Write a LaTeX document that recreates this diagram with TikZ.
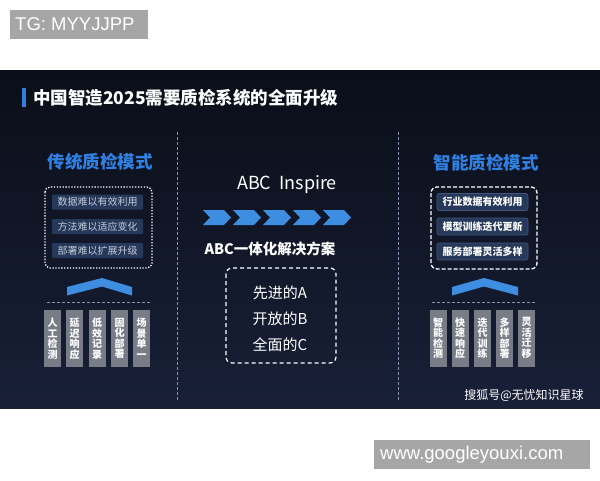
\documentclass[tikz,border=0pt]{standalone}
\usepackage{fontspec}
\setmainfont{Liberation Sans}
\newfontfamily\cjk{Noto Sans CJK SC}
\definecolor{panelTop}{HTML}{0A0E18}
\definecolor{panelBot}{HTML}{182038}
\definecolor{hblue}{HTML}{2F80E0}
\definecolor{cblue}{HTML}{3D8EE0}
\definecolor{itemfill}{HTML}{26395A}
\definecolor{itemdraw}{HTML}{42567A}
\definecolor{colgray}{HTML}{777C86}
\definecolor{vline}{HTML}{8594B4}
\definecolor{labgray}{HTML}{A6A6A6}
\definecolor{ltext}{HTML}{C3CADB}
\tikzset{
  graylab/.style={fill=labgray, text=white, font=\fontsize{18.5}{20}\selectfont, inner sep=0pt, anchor=center},
  heading/.style={text=hblue, font=\cjk\bfseries\fontsize{17.5}{18}\selectfont, inner sep=0pt},
  litem/.style={fill=itemfill, text=ltext, font=\cjk\fontsize{10}{11}\selectfont, minimum width=91pt, minimum height=15pt, inner sep=0pt, rounded corners=1pt},
  ritem/.style={fill=itemfill, draw=itemdraw, line width=0.6pt, text=white, font=\cjk\bfseries\fontsize{10}{11}\selectfont, minimum width=91pt, minimum height=17pt, inner sep=0pt, rounded corners=2pt},
  colbox/.style={fill=colgray, text=white, font=\cjk\bfseries\fontsize{10}{10.5}\selectfont, minimum width=17pt, minimum height=57pt, inner sep=0pt, align=center},
  chev/.style={fill=cblue, draw=none},
  caret/.style={fill=cblue, draw=none},
  sepline/.style={draw=vline, line width=0.9pt, dash pattern=on 3pt off 2pt},
  thinsep/.style={draw=vline, line width=0.8pt, dash pattern=on 3pt off 2pt},
  ctext/.style={text=white, font=\cjk\fontsize{15}{16}\selectfont, inner sep=0pt}
}
\begin{document}
\begin{tikzpicture}[x=1pt,y=-1pt]
\useasboundingbox (0,0) rectangle (600,480);
\fill[white] (0,0) rectangle (600,480);
% top label
\node[graylab, minimum width=138pt, minimum height=29pt] (tg) at (79,24.5) {};
\node[text=white, font=\fontsize{18.5}{20}\selectfont, inner sep=0pt, anchor=west] (tgt) at (15,24.5) {TG: MYYJJPP};
% panel
\shade[top color=panelTop, bottom color=panelBot] (0,70) rectangle (600,408);
% title
\fill[hblue] (22,88) rectangle (25.5,107);
\node[anchor=west, text=white, font=\cjk\bfseries\fontsize{17.5}{18}\selectfont, inner sep=0pt] (title) at (33,98) {中国智造2025需要质检系统的全面升级};
% separators
\coordinate (s1a) at (177.5,132); \coordinate (s1b) at (177.5,400);
\coordinate (s2a) at (398,132); \coordinate (s2b) at (398,400);
\draw[sepline] (s1a) -- (s1b);
\draw[sepline] (s2a) -- (s2b);
% left side
\node[heading] (lh) at (100,162) {传统质检模式};
\draw[white, line width=1.3pt, dash pattern=on 1.3pt off 1.6pt, rounded corners=5pt] (45,187) rectangle (152,268);
\node[litem] (l1) at (97.5,202) {数据难以有效利用};
\node[litem] (l2) at (97.5,226.5) {方法难以适应变化};
\node[litem] (l3) at (97.5,250.5) {部署难以扩展升级};
\fill[caret] (67,287) -- (102,278) -- (132,287) -- (132,295.5) -- (102,286.5) -- (67,295.5) -- cycle;
\coordinate (lda) at (47,302); \coordinate (ldb) at (150,302);
\draw[thinsep] (lda) -- (ldb);
\node[colbox] (lc1) at (52.5,338.5) {人\\工\\检\\测};
\node[colbox] (lc2) at (74.5,338.5) {延\\迟\\响\\应};
\node[colbox] (lc3) at (97,338.5) {低\\效\\记\\录};
\node[colbox] (lc4) at (119.5,338.5) {固\\化\\部\\署};
\node[colbox] (lc5) at (141.5,338.5) {场\\景\\单\\一};
% center
\node[text=white, font=\cjk\fontsize{18}{19}\selectfont, inner sep=0pt] (abc) at (287,185) {ABC\ \ Inspire};
\foreach \x in {203,233,263,293,323}{
  \fill[chev] (\x,210) -- (\x+21,210) -- (\x+28,217.5) -- (\x+21,225) -- (\x,225) -- (\x+7,217.5) -- cycle;
}
\node[text=white, font=\cjk\bfseries\fontsize{14.5}{15}\selectfont, inner sep=0pt] (sol) at (270,249) {ABC一体化解决方案};
\draw[white, line width=1.2pt, dash pattern=on 4pt off 3pt, rounded corners=6pt] (226,268) rectangle (336,363);
\node[ctext] (c1) at (280,293) {先进的A};
\node[ctext] (c2) at (280,319) {开放的B};
\node[ctext] (c3) at (280,345) {全面的C};
% right side
\node[heading] (rh) at (486,163) {智能质检模式};
\draw[white, line width=1.3pt, dash pattern=on 4pt off 2pt, rounded corners=6pt] (431,187) rectangle (537,269);
\node[ritem] (r1) at (482.5,202) {行业数据有效利用};
\node[ritem] (r2) at (482.5,226.5) {模型训练迭代更新};
\node[ritem] (r3) at (482.5,251.5) {服务部署灵活多样};
\fill[caret] (452,287) -- (484,278) -- (518,287) -- (518,295.5) -- (484,286.5) -- (452,295.5) -- cycle;
\coordinate (rda) at (432,302); \coordinate (rdb) at (535,302);
\draw[thinsep] (rda) -- (rdb);
\node[colbox] (rc1) at (438,338) {智\\能\\检\\测};
\node[colbox] (rc2) at (460,338) {快\\速\\响\\应};
\node[colbox] (rc3) at (482.5,338) {迭\\代\\训\\练};
\node[colbox] (rc4) at (504.5,338) {多\\样\\部\\署};
\node[colbox] (rc5) at (526.5,338) {灵\\活\\迁\\移};
\node[text=white, font=\cjk\fontsize{12}{13}\selectfont, inner sep=0pt] (wm) at (524,395) {搜狐号@无忧知识星球};
% bottom label
\node[graylab, minimum width=216pt, minimum height=29pt] (www) at (482,454.5) {};
\node[text=white, font=\fontsize{18.5}{20}\selectfont, inner sep=0pt, anchor=west] (wwwt) at (380,454.5) {www.googleyouxi.com};
\end{tikzpicture}
\end{document}
